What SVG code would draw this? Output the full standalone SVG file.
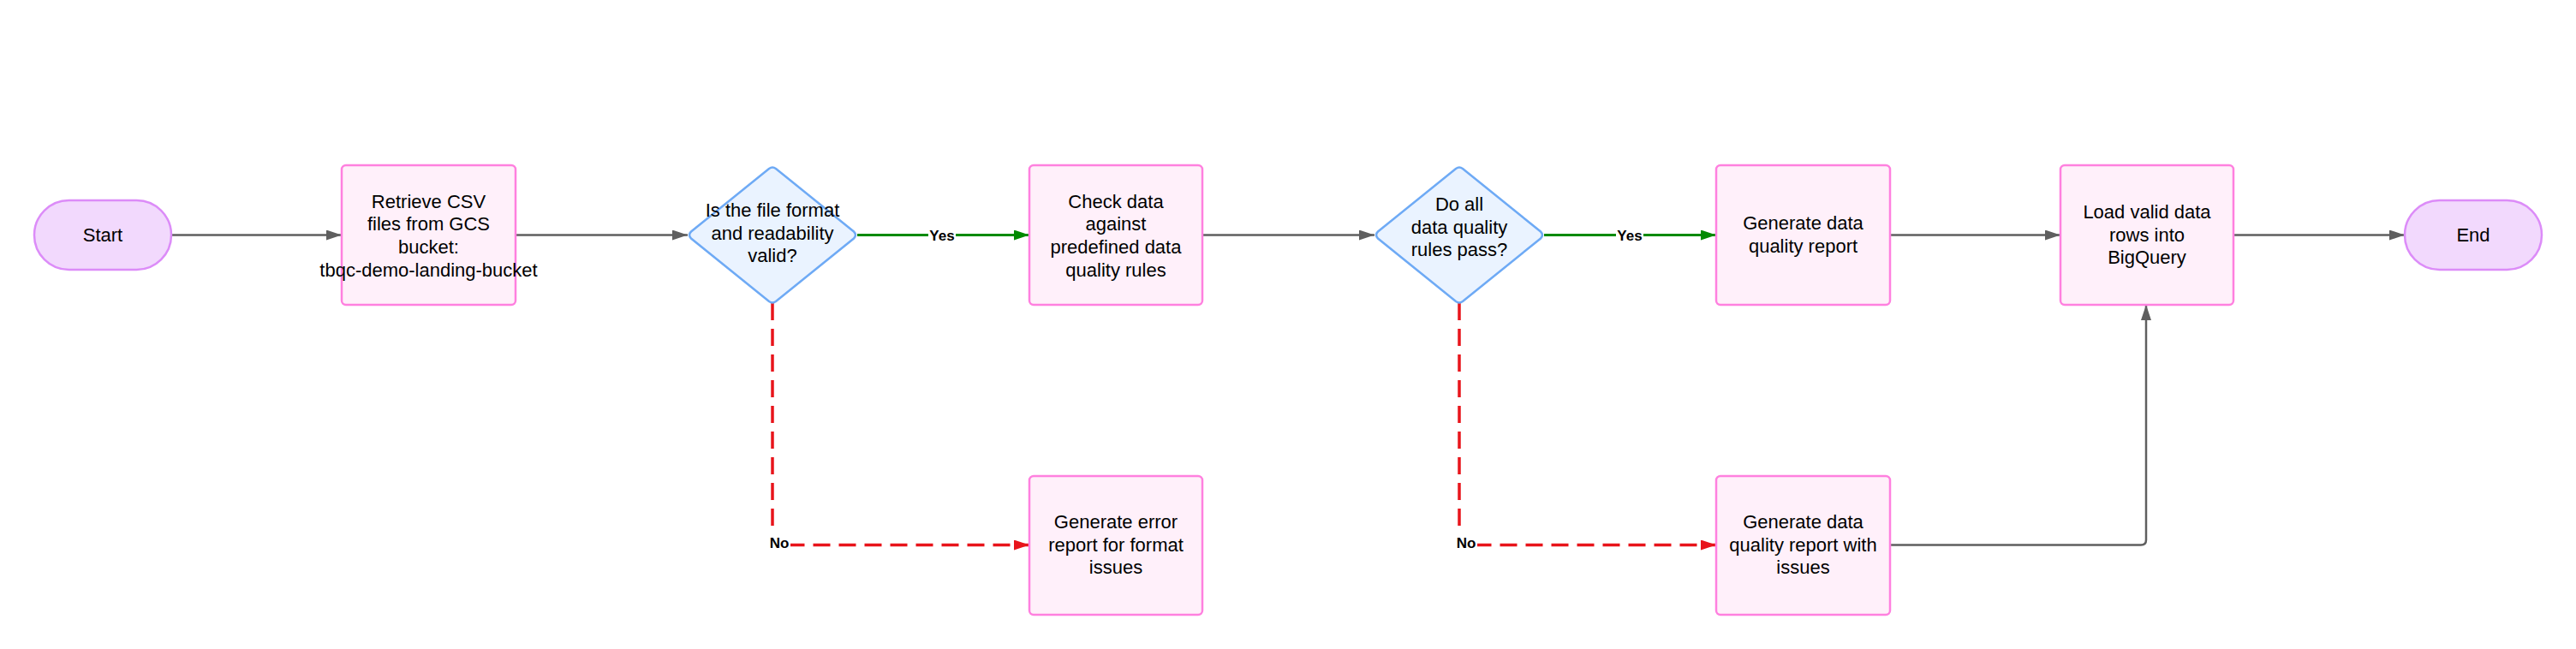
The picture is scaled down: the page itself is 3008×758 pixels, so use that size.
<svg xmlns="http://www.w3.org/2000/svg" width="3008" height="758" viewBox="0 0 3008 758">
<defs>
<style>
.term{fill:#f2d9fd;stroke:#dc8cf8;stroke-width:2.5}
.box{fill:#fff0fa;stroke:#ff80df;stroke-width:2.5}
.dec{fill:#eaf3ff;stroke:#6eaaf5;stroke-width:2.5}
.t{font-family:"Liberation Sans",Arial,sans-serif;font-size:22px;fill:#000;text-anchor:middle}
.lbl{font-family:"Liberation Sans",Arial,sans-serif;font-size:17px;font-weight:bold;fill:#000;text-anchor:middle}
.lblbg{fill:#ffffff}
.gray{fill:none;stroke:#5f5f5f;stroke-width:2.5}
.green{fill:none;stroke:#008a00;stroke-width:3}
.red{fill:none;stroke:#e8141b;stroke-width:3.5;stroke-dasharray:20 10}
</style>
<marker id="ag" markerUnits="userSpaceOnUse" markerWidth="18" markerHeight="12" refX="18" refY="6" orient="auto"><path d="M0,0 L18,6 L0,12 z" fill="#5f5f5f"/></marker>
<marker id="agr" markerUnits="userSpaceOnUse" markerWidth="18" markerHeight="12" refX="18" refY="6" orient="auto"><path d="M0,0 L18,6 L0,12 z" fill="#008a00"/></marker>
<marker id="ar" markerUnits="userSpaceOnUse" markerWidth="18" markerHeight="12" refX="18" refY="6" orient="auto"><path d="M0,0 L18,6 L0,12 z" fill="#e8141b"/></marker>
</defs>
<rect width="3008" height="758" fill="#ffffff"/>
<g id="connectors">
<path class="gray" d="M200,274.5 L399,274.5" marker-end="url(#ag)"/>
<path class="gray" d="M602,274.5 L803,274.5" marker-end="url(#ag)"/>
<path class="green" d="M1001,274.5 L1202,274.5" marker-end="url(#agr)"/>
<path class="gray" d="M1404,274.5 L1605,274.5" marker-end="url(#ag)"/>
<path class="green" d="M1803,274.5 L2004,274.5" marker-end="url(#agr)"/>
<path class="gray" d="M2207,274.5 L2406,274.5" marker-end="url(#ag)"/>
<path class="gray" d="M2608,274.5 L2808,274.5" marker-end="url(#ag)"/>
<path class="red" d="M902,354 L902,636.5 L1202,636.5" marker-end="url(#ar)"/>
<path class="red" d="M1704,354 L1704,636.5 L2004,636.5" marker-end="url(#ar)"/>
<path class="gray" d="M2207,636.5 L2500,636.5 Q2506,636.5 2506,630.5 L2506,356" marker-end="url(#ag)"/>
<g id="label-yes1"><rect class="lblbg" x="1084" y="264" width="32" height="21"/><text class="lbl" x="1100" y="280.5">Yes</text></g>
<g id="label-yes2"><rect class="lblbg" x="1887" y="264" width="32" height="21"/><text class="lbl" x="1903" y="280.5">Yes</text></g>
<g id="label-no1"><rect class="lblbg" x="897" y="624" width="26" height="21"/><text class="lbl" x="910" y="640">No</text></g>
<g id="label-no2"><rect class="lblbg" x="1699" y="624" width="26" height="21"/><text class="lbl" x="1712" y="640">No</text></g>
</g>
<g id="start"><rect class="term" x="40" y="234" width="160" height="81" rx="40.5"/><text class="t" x="120" y="282">Start</text></g>
<g id="retrieve"><rect class="box" x="399" y="193" width="203" height="163" rx="5"/><text class="t" x="500.5" y="242.5">Retrieve CSV<tspan x="500.5" dy="26.7">files from GCS</tspan><tspan x="500.5" dy="26.7">bucket:</tspan><tspan x="500.5" dy="26.7">tbqc-demo-landing-bucket</tspan></text></g>
<g id="decision1"><path class="dec" d="M898,197 Q902,194 906,197 L997,270.5 Q1001,274.5 997,278.5 L906,352 Q902,355 898,352 L807,278.5 Q803,274.5 807,270.5 Z"/><text class="t" x="902" y="253">Is the file format<tspan x="902" dy="26.7">and readability</tspan><tspan x="902" dy="26.7">valid?</tspan></text></g>
<g id="check"><rect class="box" x="1202" y="193" width="202" height="163" rx="5"/><text class="t" x="1303" y="242.5">Check data<tspan x="1303" dy="26.7">against</tspan><tspan x="1303" dy="26.7">predefined data</tspan><tspan x="1303" dy="26.7">quality rules</tspan></text></g>
<g id="decision2"><path class="dec" d="M1700,197 Q1704,194 1708,197 L1799,270.5 Q1803,274.5 1799,278.5 L1708,352 Q1704,355 1700,352 L1609,278.5 Q1605,274.5 1609,270.5 Z"/><text class="t" x="1704" y="246">Do all<tspan x="1704" dy="26.7">data quality</tspan><tspan x="1704" dy="26.7">rules pass?</tspan></text></g>
<g id="report"><rect class="box" x="2004" y="193" width="203" height="163" rx="5"/><text class="t" x="2105.5" y="268">Generate data<tspan x="2105.5" dy="26.7">quality report</tspan></text></g>
<g id="load"><rect class="box" x="2406" y="193" width="202" height="163" rx="5"/><text class="t" x="2507" y="255">Load valid data<tspan x="2507" dy="26.7">rows into</tspan><tspan x="2507" dy="26.7">BigQuery</tspan></text></g>
<g id="end"><rect class="term" x="2808" y="234" width="160" height="81" rx="40.5"/><text class="t" x="2888" y="282">End</text></g>
<g id="error"><rect class="box" x="1202" y="556" width="202" height="162" rx="5"/><text class="t" x="1303" y="617">Generate error<tspan x="1303" dy="26.7">report for format</tspan><tspan x="1303" dy="26.7">issues</tspan></text></g>
<g id="report-issues"><rect class="box" x="2004" y="556" width="203" height="162" rx="5"/><text class="t" x="2105.5" y="617">Generate data<tspan x="2105.5" dy="26.7">quality report with</tspan><tspan x="2105.5" dy="26.7">issues</tspan></text></g>
</svg>
